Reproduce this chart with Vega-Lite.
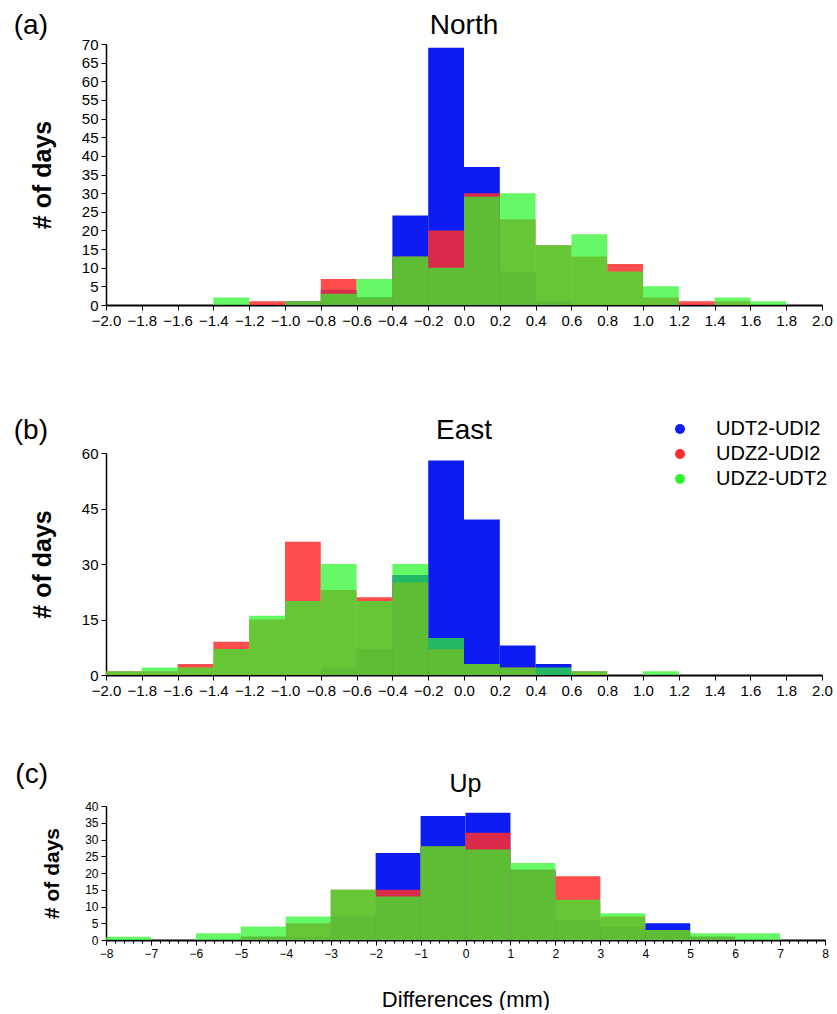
{
  "$schema": "https://vega.github.io/schema/vega-lite/v6.json",
  "padding": {"left": 13, "top": 12, "right": 3, "bottom": 0},
  "spacing": 63,
  "config": {
    "view": {"stroke": null},
    "font": "Liberation Sans",
    "title": {"fontSize": 28, "fontWeight": "normal", "color": "#000000", "font": "Liberation Sans"},
    "axis": {"grid": false, "domainColor": "#000000", "domainWidth": 1.5, "tickColor": "#000000", "tickWidth": 1, "tickSize": 5, "labelPadding": 3, "labelColor": "#000000", "titleColor": "#000000", "labelFont": "Liberation Sans", "titleFont": "Liberation Sans", "labelFlush": false, "labelOverlap": false}
  },
  "datasets": {
    "north": [
      {"from": -1.0, "to": -0.8, "series": "UDT2-UDI2", "days": 1},
      {"from": -0.8, "to": -0.6, "series": "UDT2-UDI2", "days": 4},
      {"from": -0.6, "to": -0.4, "series": "UDT2-UDI2", "days": 2},
      {"from": -0.4, "to": -0.2, "series": "UDT2-UDI2", "days": 24},
      {"from": -0.2, "to": 0.0, "series": "UDT2-UDI2", "days": 69},
      {"from": 0.0, "to": 0.2, "series": "UDT2-UDI2", "days": 37},
      {"from": 0.2, "to": 0.4, "series": "UDT2-UDI2", "days": 9},
      {"from": 0.4, "to": 0.6, "series": "UDT2-UDI2", "days": 1},
      {"from": -1.2, "to": -1.0, "series": "UDZ2-UDI2", "days": 1},
      {"from": -1.0, "to": -0.8, "series": "UDZ2-UDI2", "days": 1},
      {"from": -0.8, "to": -0.6, "series": "UDZ2-UDI2", "days": 7},
      {"from": -0.6, "to": -0.4, "series": "UDZ2-UDI2", "days": 2},
      {"from": -0.4, "to": -0.2, "series": "UDZ2-UDI2", "days": 13},
      {"from": -0.2, "to": 0.0, "series": "UDZ2-UDI2", "days": 20},
      {"from": 0.0, "to": 0.2, "series": "UDZ2-UDI2", "days": 30},
      {"from": 0.2, "to": 0.4, "series": "UDZ2-UDI2", "days": 23},
      {"from": 0.4, "to": 0.6, "series": "UDZ2-UDI2", "days": 16},
      {"from": 0.6, "to": 0.8, "series": "UDZ2-UDI2", "days": 13},
      {"from": 0.8, "to": 1.0, "series": "UDZ2-UDI2", "days": 11},
      {"from": 1.0, "to": 1.2, "series": "UDZ2-UDI2", "days": 2},
      {"from": 1.2, "to": 1.4, "series": "UDZ2-UDI2", "days": 1},
      {"from": 1.4, "to": 1.6, "series": "UDZ2-UDI2", "days": 1},
      {"from": -1.4, "to": -1.2, "series": "UDZ2-UDT2", "days": 2},
      {"from": -1.0, "to": -0.8, "series": "UDZ2-UDT2", "days": 1},
      {"from": -0.8, "to": -0.6, "series": "UDZ2-UDT2", "days": 3},
      {"from": -0.6, "to": -0.4, "series": "UDZ2-UDT2", "days": 7},
      {"from": -0.4, "to": -0.2, "series": "UDZ2-UDT2", "days": 13},
      {"from": -0.2, "to": 0.0, "series": "UDZ2-UDT2", "days": 10},
      {"from": 0.0, "to": 0.2, "series": "UDZ2-UDT2", "days": 29},
      {"from": 0.2, "to": 0.4, "series": "UDZ2-UDT2", "days": 30},
      {"from": 0.4, "to": 0.6, "series": "UDZ2-UDT2", "days": 16},
      {"from": 0.6, "to": 0.8, "series": "UDZ2-UDT2", "days": 19},
      {"from": 0.8, "to": 1.0, "series": "UDZ2-UDT2", "days": 9},
      {"from": 1.0, "to": 1.2, "series": "UDZ2-UDT2", "days": 5},
      {"from": 1.4, "to": 1.6, "series": "UDZ2-UDT2", "days": 2},
      {"from": 1.6, "to": 1.8, "series": "UDZ2-UDT2", "days": 1}
    ],
    "east": [
      {"from": -0.8, "to": -0.6, "series": "UDT2-UDI2", "days": 2},
      {"from": -0.6, "to": -0.4, "series": "UDT2-UDI2", "days": 7},
      {"from": -0.4, "to": -0.2, "series": "UDT2-UDI2", "days": 27},
      {"from": -0.2, "to": 0.0, "series": "UDT2-UDI2", "days": 58},
      {"from": 0.0, "to": 0.2, "series": "UDT2-UDI2", "days": 42},
      {"from": 0.2, "to": 0.4, "series": "UDT2-UDI2", "days": 8},
      {"from": 0.4, "to": 0.6, "series": "UDT2-UDI2", "days": 3},
      {"from": -2.0, "to": -1.8, "series": "UDZ2-UDI2", "days": 1},
      {"from": -1.8, "to": -1.6, "series": "UDZ2-UDI2", "days": 1},
      {"from": -1.6, "to": -1.4, "series": "UDZ2-UDI2", "days": 3},
      {"from": -1.4, "to": -1.2, "series": "UDZ2-UDI2", "days": 9},
      {"from": -1.2, "to": -1.0, "series": "UDZ2-UDI2", "days": 15},
      {"from": -1.0, "to": -0.8, "series": "UDZ2-UDI2", "days": 36},
      {"from": -0.8, "to": -0.6, "series": "UDZ2-UDI2", "days": 23},
      {"from": -0.6, "to": -0.4, "series": "UDZ2-UDI2", "days": 21},
      {"from": -0.4, "to": -0.2, "series": "UDZ2-UDI2", "days": 25},
      {"from": -0.2, "to": 0.0, "series": "UDZ2-UDI2", "days": 7},
      {"from": 0.0, "to": 0.2, "series": "UDZ2-UDI2", "days": 3},
      {"from": 0.2, "to": 0.4, "series": "UDZ2-UDI2", "days": 2},
      {"from": 0.6, "to": 0.8, "series": "UDZ2-UDI2", "days": 1},
      {"from": -2.0, "to": -1.8, "series": "UDZ2-UDT2", "days": 1},
      {"from": -1.8, "to": -1.6, "series": "UDZ2-UDT2", "days": 2},
      {"from": -1.6, "to": -1.4, "series": "UDZ2-UDT2", "days": 2},
      {"from": -1.4, "to": -1.2, "series": "UDZ2-UDT2", "days": 7},
      {"from": -1.2, "to": -1.0, "series": "UDZ2-UDT2", "days": 16},
      {"from": -1.0, "to": -0.8, "series": "UDZ2-UDT2", "days": 20},
      {"from": -0.8, "to": -0.6, "series": "UDZ2-UDT2", "days": 30},
      {"from": -0.6, "to": -0.4, "series": "UDZ2-UDT2", "days": 20},
      {"from": -0.4, "to": -0.2, "series": "UDZ2-UDT2", "days": 30},
      {"from": -0.2, "to": 0.0, "series": "UDZ2-UDT2", "days": 10},
      {"from": 0.0, "to": 0.2, "series": "UDZ2-UDT2", "days": 3},
      {"from": 0.2, "to": 0.4, "series": "UDZ2-UDT2", "days": 2},
      {"from": 0.4, "to": 0.6, "series": "UDZ2-UDT2", "days": 2},
      {"from": 0.6, "to": 0.8, "series": "UDZ2-UDT2", "days": 1},
      {"from": 1.0, "to": 1.2, "series": "UDZ2-UDT2", "days": 1}
    ],
    "up": [
      {"from": -5, "to": -4, "series": "UDT2-UDI2", "days": 1},
      {"from": -4, "to": -3, "series": "UDT2-UDI2", "days": 1},
      {"from": -3, "to": -2, "series": "UDT2-UDI2", "days": 7},
      {"from": -2, "to": -1, "series": "UDT2-UDI2", "days": 26},
      {"from": -1, "to": 0, "series": "UDT2-UDI2", "days": 37},
      {"from": 0, "to": 1, "series": "UDT2-UDI2", "days": 38},
      {"from": 1, "to": 2, "series": "UDT2-UDI2", "days": 21},
      {"from": 2, "to": 3, "series": "UDT2-UDI2", "days": 6},
      {"from": 3, "to": 4, "series": "UDT2-UDI2", "days": 4},
      {"from": 4, "to": 5, "series": "UDT2-UDI2", "days": 5},
      {"from": 5, "to": 6, "series": "UDT2-UDI2", "days": 1},
      {"from": -5, "to": -4, "series": "UDZ2-UDI2", "days": 1},
      {"from": -4, "to": -3, "series": "UDZ2-UDI2", "days": 5},
      {"from": -3, "to": -2, "series": "UDZ2-UDI2", "days": 15},
      {"from": -2, "to": -1, "series": "UDZ2-UDI2", "days": 15},
      {"from": -1, "to": 0, "series": "UDZ2-UDI2", "days": 28},
      {"from": 0, "to": 1, "series": "UDZ2-UDI2", "days": 32},
      {"from": 1, "to": 2, "series": "UDZ2-UDI2", "days": 21},
      {"from": 2, "to": 3, "series": "UDZ2-UDI2", "days": 19},
      {"from": 3, "to": 4, "series": "UDZ2-UDI2", "days": 7},
      {"from": 4, "to": 5, "series": "UDZ2-UDI2", "days": 3},
      {"from": 5, "to": 6, "series": "UDZ2-UDI2", "days": 1},
      {"from": -8, "to": -7, "series": "UDZ2-UDT2", "days": 1},
      {"from": -6, "to": -5, "series": "UDZ2-UDT2", "days": 2},
      {"from": -5, "to": -4, "series": "UDZ2-UDT2", "days": 4},
      {"from": -4, "to": -3, "series": "UDZ2-UDT2", "days": 7},
      {"from": -3, "to": -2, "series": "UDZ2-UDT2", "days": 15},
      {"from": -2, "to": -1, "series": "UDZ2-UDT2", "days": 13},
      {"from": -1, "to": 0, "series": "UDZ2-UDT2", "days": 28},
      {"from": 0, "to": 1, "series": "UDZ2-UDT2", "days": 27},
      {"from": 1, "to": 2, "series": "UDZ2-UDT2", "days": 23},
      {"from": 2, "to": 3, "series": "UDZ2-UDT2", "days": 12},
      {"from": 3, "to": 4, "series": "UDZ2-UDT2", "days": 8},
      {"from": 4, "to": 5, "series": "UDZ2-UDT2", "days": 3},
      {"from": 5, "to": 6, "series": "UDZ2-UDT2", "days": 2},
      {"from": 6, "to": 7, "series": "UDZ2-UDT2", "days": 2}
    ]
  },
  "vconcat": [
    {
      "title": {"text": "(a)", "orient": "left", "anchor": "end", "frame": "bounds", "angle": 0, "align": "left", "baseline": "top", "offset": -18, "fontSize": 28},
      "vconcat": [
        {
          "title": {"text": "North", "frame": "group", "anchor": "middle", "offset": -3, "fontSize": 28},
          "width": 716,
          "height": 261,
          "data": {"name": "north"},
          "mark": {"type": "bar"},
          "encoding": {
            "x": {"field": "from", "type": "quantitative",
                  "scale": {"domain": [-2, 2], "nice": false, "zero": false},
                  "axis": {"values": [-2, -1.8, -1.6, -1.4, -1.2, -1, -0.8, -0.6, -0.4, -0.2, 0, 0.2, 0.4, 0.6, 0.8, 1, 1.2, 1.4, 1.6, 1.8, 2], "format": ".1f", "labelFontSize": 15, "domainWidth": 2, "title": "\u00a0", "titleFontSize": 27, "titlePadding": 0}},
            "x2": {"field": "to"},
            "y": {"field": "days", "type": "quantitative", "stack": null,
                  "scale": {"domain": [0, 70], "nice": false},
                  "axis": {"values": [0, 5, 10, 15, 20, 25, 30, 35, 40, 45, 50, 55, 60, 65, 70], "labelFontSize": 15, "minExtent": 26, "maxExtent": 26, "title": "# of days", "titleFontSize": 25, "titleFontWeight": "bold", "titlePadding": 25}},
            "y2": {"datum": 0},
            "color": {"field": "series", "type": "nominal",
                      "scale": {"domain": ["UDT2-UDI2", "UDZ2-UDI2", "UDZ2-UDT2"], "range": ["#0c1cf2", "#ff2e2e", "#2cf52c"]}},
            "opacity": {"condition": [{"test": "datum.series === 'UDZ2-UDT2'", "value": 0.72}, {"test": "datum.series === 'UDZ2-UDI2'", "value": 0.85}], "value": 1}
          }
        }
      ]
    },
    {
      "title": {"text": "(b)", "orient": "left", "anchor": "end", "frame": "bounds", "angle": 0, "align": "left", "baseline": "top", "offset": -18, "fontSize": 28},
      "vconcat": [
        {
          "title": {"text": "East", "frame": "group", "anchor": "middle", "offset": 1, "fontSize": 28},
          "width": 716,
          "height": 222,
          "data": {"name": "east"},
          "mark": {"type": "bar"},
          "encoding": {
            "x": {"field": "from", "type": "quantitative",
                  "scale": {"domain": [-2, 2], "nice": false, "zero": false},
                  "axis": {"values": [-2, -1.8, -1.6, -1.4, -1.2, -1, -0.8, -0.6, -0.4, -0.2, 0, 0.2, 0.4, 0.6, 0.8, 1, 1.2, 1.4, 1.6, 1.8, 2], "format": ".1f", "labelFontSize": 15, "domainWidth": 2, "title": null}},
            "x2": {"field": "to"},
            "y": {"field": "days", "type": "quantitative", "stack": null,
                  "scale": {"domain": [0, 60], "nice": false},
                  "axis": {"values": [0, 15, 30, 45, 60], "labelFontSize": 15, "minExtent": 26, "maxExtent": 26, "title": "# of days", "titleFontSize": 25, "titleFontWeight": "bold", "titlePadding": 25}},
            "y2": {"datum": 0},
            "color": {"field": "series", "type": "nominal",
                      "scale": {"domain": ["UDT2-UDI2", "UDZ2-UDI2", "UDZ2-UDT2"], "range": ["#0c1cf2", "#ff2e2e", "#2cf52c"]},
                      "legend": {"title": null, "orient": "none", "legendX": 564, "legendY": 375, "symbolType": "circle", "symbolSize": 100, "symbolOpacity": 1, "symbolStrokeWidth": 0, "labelFontSize": 20, "labelFont": "Liberation Sans", "labelColor": "#000000", "labelOffset": 26, "rowPadding": 5, "labelLimit": 300}},
            "opacity": {"condition": [{"test": "datum.series === 'UDZ2-UDT2'", "value": 0.72}, {"test": "datum.series === 'UDZ2-UDI2'", "value": 0.85}], "value": 1}
          }
        }
      ]
    },
    {
      "title": {"text": "(c)", "orient": "left", "anchor": "end", "frame": "bounds", "angle": 0, "align": "left", "baseline": "top", "offset": -7, "dy": -11, "fontSize": 28},
      "vconcat": [
        {
          "title": {"text": "Up", "frame": "group", "anchor": "middle", "offset": 3, "fontSize": 25},
          "width": 719,
          "height": 134,
          "data": {"name": "up"},
          "layer": [
            {
              "mark": {"type": "bar"},
              "encoding": {
                "x": {"field": "from", "type": "quantitative",
                      "scale": {"domain": [-8, 8], "nice": false, "zero": false},
                      "axis": {"values": [-8, -7, -6, -5, -4, -3, -2, -1, 0, 1, 2, 3, 4, 5, 6, 7, 8], "format": "d", "labelFontSize": 12, "domainWidth": 2, "orient": "bottom", "title": "Differences (mm)", "titleFontSize": 22, "titleFontWeight": "normal", "titlePadding": 30}},
                "x2": {"field": "to"},
                "y": {"field": "days", "type": "quantitative", "stack": null,
                      "scale": {"domain": [0, 40], "nice": false},
                      "axis": {"values": [0, 5, 10, 15, 20, 25, 30, 35, 40], "labelFontSize": 12, "minExtent": 26, "maxExtent": 26, "title": "# of days", "titleFontSize": 21, "titleFontWeight": "bold", "titlePadding": 18}},
                "y2": {"datum": 0},
                "color": {"field": "series", "type": "nominal",
                          "scale": {"domain": ["UDT2-UDI2", "UDZ2-UDI2", "UDZ2-UDT2"], "range": ["#0c1cf2", "#ff2e2e", "#2cf52c"]}},
                "opacity": {"condition": [{"test": "datum.series === 'UDZ2-UDT2'", "value": 0.72}, {"test": "datum.series === 'UDZ2-UDI2'", "value": 0.85}], "value": 1}
              }
            },
            {
              "mark": {"type": "rule", "opacity": 0},
              "encoding": {
                "x": {"field": "from", "type": "quantitative",
                      "scale": {"domain": [-8, 8], "nice": false, "zero": false},
                      "axis": {"orient": "bottom", "tickCount": 80, "labels": false, "domain": false, "tickSize": 3, "title": null}}
              }
            }
          ],
          "resolve": {"axis": {"x": "independent"}}
        }
      ]
    }
  ]
}
